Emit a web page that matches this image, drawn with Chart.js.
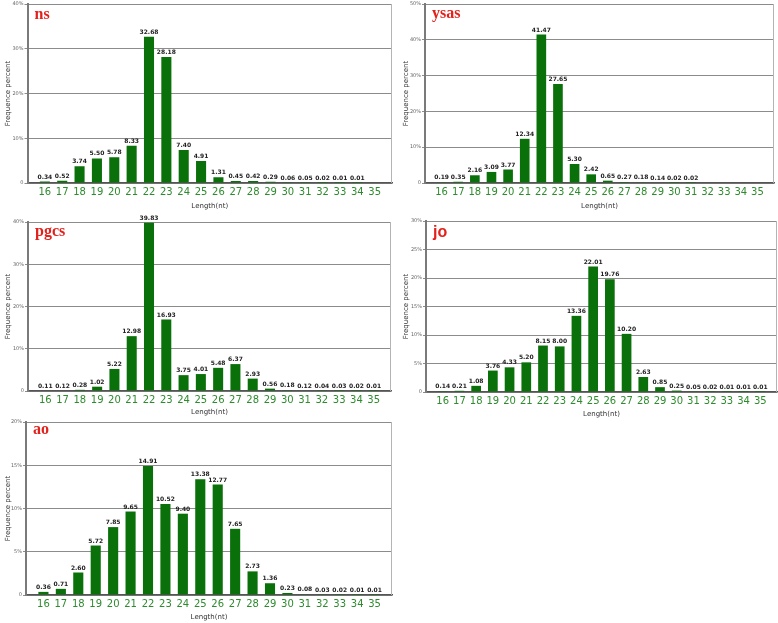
<!DOCTYPE html>
<html>
<head>
<meta charset="utf-8">
<script src="https://cdn.jsdelivr.net/npm/chart.js@4.4.1/dist/chart.umd.min.js"></script>
<style>
body { margin: 0; background: #fff; }
#wrap { position: relative; width: 778px; height: 623px; overflow: hidden; background: #fff; }
canvas { position: absolute; }
</style>
</head>
<body>
<div id="wrap">
  <canvas id="c_ns"></canvas>
  <canvas id="c_ysas"></canvas>
  <canvas id="c_pgcs"></canvas>
  <canvas id="c_jo"></canvas>
  <canvas id="c_ao"></canvas>
</div>
<script>
const lengths = [16,17,18,19,20,21,22,23,24,25,26,27,28,29,30,31,32,33,34,35];

const ns   = [0.34,0.52,3.74,5.50,5.78,8.33,32.68,28.18,7.40,4.91,1.31,0.45,0.42,0.29,0.06,0.05,0.02,0.01,0.01,null];
const ysas = [0.19,0.35,2.16,3.09,3.77,12.34,41.47,27.65,5.30,2.42,0.65,0.27,0.18,0.14,0.02,0.02,null,null,null,null];
const pgcs = [0.11,0.12,0.28,1.02,5.22,12.98,39.83,16.93,3.75,4.01,5.48,6.37,2.93,0.56,0.18,0.12,0.04,0.03,0.02,0.01];
const jo   = [0.14,0.21,1.08,3.76,4.33,5.20,8.15,8.00,13.36,22.01,19.76,10.20,2.63,0.85,0.25,0.05,0.02,0.01,0.01,0.01];
const ao   = [0.36,0.71,2.60,5.72,7.85,9.65,14.91,10.52,9.40,13.38,12.77,7.65,2.73,1.36,0.23,0.08,0.03,0.02,0.01,0.01];

const yMax  = { ns: 40, ysas: 50, pgcs: 40, jo: 30, ao: 20 };
const yStep = { ns: 10, ysas: 10, pgcs: 10, jo: 5, ao: 5 };

const xTitle = 'Length(nt)';
const yTitle = 'Frequence percent';

const makePanel = (name, values, box, area, nameFont, nameDy) => {
    const canvas = document.getElementById('c_' + name);
    canvas.width = box.w;
    canvas.height = box.h;
    canvas.style.left = box.x + 'px';
    canvas.style.top = box.y + 'px';

    const yWidth = area.l - box.x;
    const xHeight = box.y + box.h - area.b;

    const labelsPlugin = {
        id: 'labels_' + name,
        afterDatasetsDraw(chart) {
            const c = chart.ctx;
            const meta = chart.getDatasetMeta(0);
            const ca = chart.chartArea;
            c.save();
            // right frame line
            c.strokeStyle = '#b4b4b4';
            c.lineWidth = 1;
            c.beginPath();
            c.moveTo(ca.right - 0.5, ca.top);
            c.lineTo(ca.right - 0.5, ca.bottom);
            c.stroke();

            c.font = 'bold 6px "DejaVu Sans"';
            c.fillStyle = '#222';
            c.textAlign = 'center';
            c.textBaseline = 'bottom';
            meta.data.forEach((bar, i) => {
                const v = values[i];
                if (v == null) return;
                c.fillText(v.toFixed(2), bar.x, bar.y - 1.5);
            });

            c.font = nameFont;
            c.fillStyle = '#e3211c';
            c.textAlign = 'left';
            c.textBaseline = 'alphabetic';
            c.fillText(name, ca.left + 7, ca.top + nameDy);
            c.restore();
        }
    };

    new Chart(canvas.getContext('2d'), {
        type: 'bar',
        data: {
            datasets: [{
                data: lengths.map((x, i) => ({ x: x, y: values[i] })),
                backgroundColor: '#0a700a',
                borderWidth: 0,
                barPercentage: 0.58,
                categoryPercentage: 1
            }]
        },
        options: {
            responsive: false,
            animation: false,
            layout: {
                padding: { left: 0, bottom: 0, top: area.t - box.y, right: box.x + box.w - area.r }
            },
            plugins: { legend: { display: false }, tooltip: { enabled: false } },
            scales: {
                x: {
                    type: 'linear',
                    offset: false,
                    min: 15,
                    max: 36,
                    afterBuildTicks: (s) => { s.ticks = lengths.map(v => ({ value: v })); },
                    afterFit: (s) => { s.height = xHeight; },
                    grid: { display: false, drawTicks: false, tickLength: 0 },
                    border: { display: true, color: '#555', width: 1.5 },
                    ticks: {
                        autoSkip: false,
                        maxRotation: 0,
                        padding: 3,
                        color: '#2e8b2e',
                        font: { family: 'DejaVu Sans', size: 10 }
                    },
                    title: {
                        display: true,
                        text: xTitle,
                        color: '#333',
                        padding: 0,
                        font: { family: 'DejaVu Sans', size: 7 }
                    }
                },
                y: {
                    min: 0,
                    max: yMax[name],
                    afterFit: (s) => { s.width = yWidth; },
                    grid: { color: '#8c8c8c', lineWidth: 1, tickLength: 3 },
                    border: { display: true, color: '#7a7a7a', width: 2 },
                    ticks: {
                        stepSize: yStep[name],
                        padding: 1,
                        color: '#666',
                        font: { family: 'DejaVu Sans', size: 5 },
                        callback: (v) => v === 0 ? '0' : v + '%'
                    },
                    title: {
                        display: true,
                        text: yTitle,
                        color: '#333',
                        padding: { top: 4, bottom: 0 },
                        font: { family: 'DejaVu Sans', size: 7 }
                    }
                }
            }
        },
        plugins: [labelsPlugin]
    });
};

const serifName = 'bold 16px "Liberation Serif"';

makePanel('ns',   ns,   { x: 0,   y: 0,   w: 394, h: 210 }, { l: 27.5, t: 4,   r: 392, b: 183 }, serifName, 15);
makePanel('ysas', ysas, { x: 398, y: 0,   w: 378, h: 210 }, { l: 425,  t: 3.3, r: 774, b: 183 }, serifName, 14);
makePanel('pgcs', pgcs, { x: 0,   y: 212, w: 394, h: 204 }, { l: 28,   t: 222, r: 391, b: 391 }, serifName, 14);
makePanel('jo',   jo,   { x: 398, y: 212, w: 380, h: 206 }, { l: 426,  t: 221, r: 777, b: 392 }, 'bold 16px "Liberation Sans"', 16);
makePanel('ao',   ao,   { x: 0,   y: 417, w: 394, h: 204 }, { l: 26,   t: 422, r: 392, b: 595 }, serifName, 12);
</script>
</body>
</html>
